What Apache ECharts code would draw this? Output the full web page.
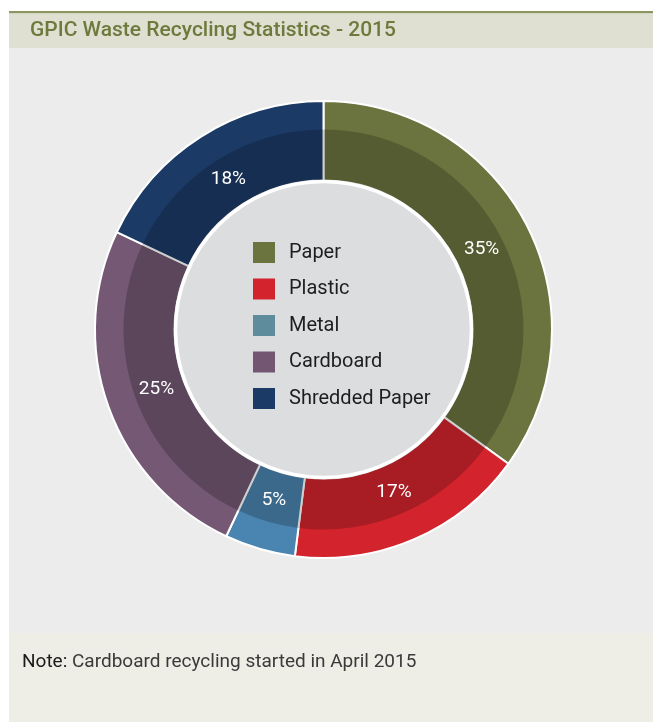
<!DOCTYPE html>
<html>
<head>
<meta charset="utf-8">
<script src="https://cdn.jsdelivr.net/npm/echarts@6/dist/echarts.min.js"></script>
<style>
html,body{margin:0;padding:0;background:#fff;}
#chart{width:653px;height:722px;}
</style>
</head>
<body>
<div id="chart"></div>
<script>
const categories = ['Paper', 'Plastic', 'Metal', 'Cardboard', 'Shredded Paper'];
const values = [35, 17, 5, 25, 18];
const labels = ['35%', '17%', '5%', '25%', '18%'];
const ringColors = ['#6b743f', '#d3232d', '#4a84b0', '#745874', '#1b3a66'];
const legendColors = ['#6b743f', '#d3232d', '#5f8c9c', '#735772', '#1b3a66'];
const titleText = 'GPIC Waste Recycling Statistics - 2015';
const noteLabel = 'Note:';
const noteText = 'Cardboard recycling started in April 2015';

const FONT = 'Roboto, "DejaVu Sans", sans-serif';
const cx = 323.5, cy = 329.5;

const chart = echarts.init(document.getElementById('chart'), null, {renderer: 'canvas'});
chart.setOption({
  animation: false,
  backgroundColor: '#ffffff',
  graphic: [
    {type: 'rect', z: -10, shape: {x: 9, y: 11, width: 644, height: 2.5}, style: {fill: '#8b955f'}},
    {type: 'rect', z: -10, shape: {x: 9, y: 13.5, width: 644, height: 35}, style: {fill: '#dfdfd2'}},
    {type: 'rect', z: -10, shape: {x: 9, y: 48.5, width: 644, height: 584.5}, style: {fill: '#ececec'}},
    {type: 'rect', z: -10, shape: {x: 9, y: 633, width: 644, height: 89}, style: {fill: '#eeede6'}},
    {type: 'text', z: 10, x: 30, y: 31, style: {text: titleText, fill: '#6e7a3c', font: '500 21px ' + FONT, verticalAlign: 'middle'}},
    {type: 'text', z: 10, x: 22, y: 662, style: {
      text: '{b|' + noteLabel + '} ' + noteText,
      rich: {b: {fill: '#1a1a1a', font: '19px ' + FONT}},
      fill: '#3a3a3a', font: '19px ' + FONT, verticalAlign: 'middle'}},
    {type: 'circle', z: 5, shape: {cx: cx, cy: cy, r: 148}, style: {fill: '#dcdddf', stroke: '#ffffff', lineWidth: 3.5}}
  ],
  legend: {
    orient: 'vertical',
    left: 253, top: 242, padding: 0,
    itemWidth: 22, itemHeight: 21, itemGap: 15.5,
    icon: 'rect',
    selectedMode: false,
    z: 20,
    textStyle: {fontFamily: FONT, fontSize: 20, color: '#1e1e1e', padding: [0, 0, 0, 9]},
    data: categories.map((c, i) => ({name: c, itemStyle: {color: legendColors[i], borderWidth: 0}}))
  },
  series: [
    {
      type: 'pie', name: 'ring', center: [cx, cy], radius: [149, 228.5],
      startAngle: 90, clockwise: true, silent: true,
      label: {show: false}, labelLine: {show: false},
      itemStyle: {borderColor: '#ffffff', borderWidth: 2},
      data: categories.map((c, i) => ({name: c, value: values[i], itemStyle: {color: ringColors[i]}}))
    },
    {
      type: 'pie', name: 'shade', center: [cx, cy], radius: [149, 200],
      startAngle: 90, clockwise: true, silent: true,
      labelLine: {show: false},
      label: {show: true, position: 'inside', color: '#ffffff', fontFamily: FONT, fontSize: 19,
        formatter: p => labels[p.dataIndex]},
      itemStyle: {borderWidth: 0, color: 'rgba(0,0,0,0.2)'},
      data: categories.map((c, i) => ({name: c, value: values[i]}))
    }
  ]
});
</script>
</body>
</html>
